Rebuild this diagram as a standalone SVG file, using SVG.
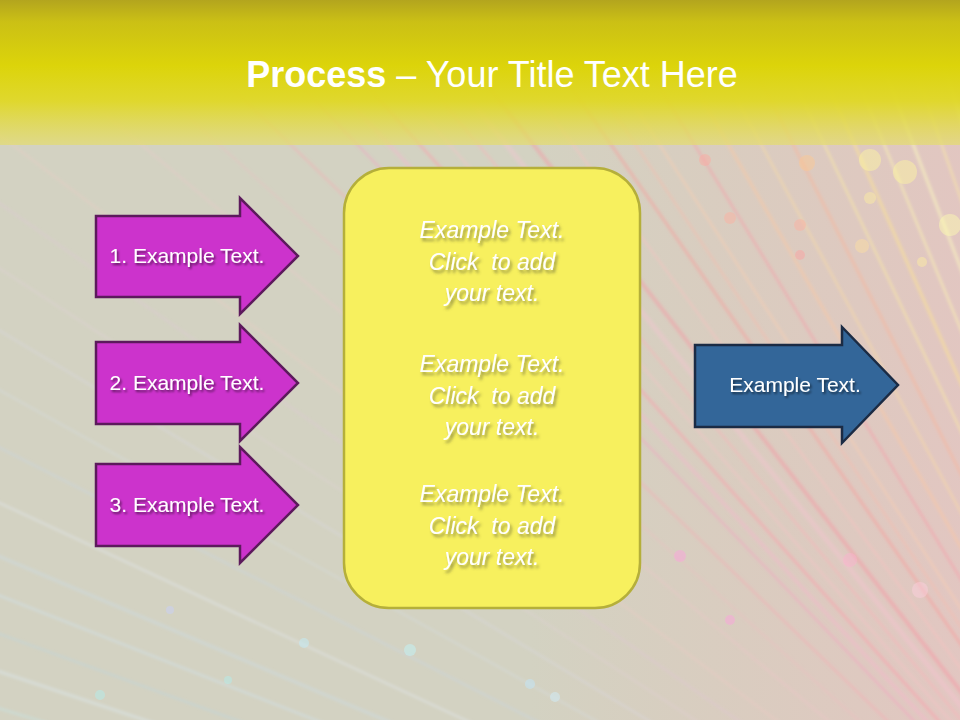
<svg xmlns="http://www.w3.org/2000/svg" width="960" height="720" viewBox="0 0 960 720">
<defs>
<style>
.t{font-family:"Liberation Sans",Arial,sans-serif;fill:#fff}
.arr{font-size:21px;text-anchor:middle;filter:url(#sh)}
.box{font-size:23px;font-style:italic;text-anchor:middle;filter:url(#sh2)}
.pur{fill:#cc33cc;stroke:#5c1a5c;stroke-width:2.5;stroke-linejoin:miter}
.blu{fill:#336699;stroke:#1b2b44;stroke-width:2.5}
.ray{fill:none;stroke-linecap:round}
</style>
<filter id="sh" x="-20%" y="-40%" width="140%" height="180%"><feDropShadow dx="1.5" dy="2" stdDeviation="1.2" flood-color="#000" flood-opacity="0.55"/></filter>
<filter id="sh2" x="-20%" y="-40%" width="140%" height="180%"><feDropShadow dx="2" dy="3" stdDeviation="1.5" flood-color="#5a5a30" flood-opacity="0.6"/></filter>
<filter id="blur"><feGaussianBlur stdDeviation="1.5"/></filter>
<linearGradient id="top" x1="0" y1="0" x2="0" y2="1">
<stop offset="0" stop-color="#b3a51e"/>
<stop offset="0.15" stop-color="#cbc015"/>
<stop offset="0.45" stop-color="#dcd40a"/>
<stop offset="0.7" stop-color="#e0d826" stop-opacity="0.95"/>
<stop offset="1" stop-color="#e4dc70" stop-opacity="0.7"/>
</linearGradient>
<linearGradient id="warm" x1="0" y1="0" x2="1" y2="0">
<stop offset="0.55" stop-color="#f0b8b0" stop-opacity="0"/>
<stop offset="1" stop-color="#f4b8c0" stop-opacity="0.45"/>
</linearGradient>
</defs>
<g id="background">
<rect x="0" y="0" width="960" height="720" fill="#d3d2c2"/>
<rect x="0" y="0" width="960" height="720" fill="url(#warm)"/>
<g transform="translate(1280,1100)" class="ray" filter="url(#blur)">
<line x2="-2000" transform="rotate(40)" stroke="#ffc0d0" stroke-width="2" opacity=".25"/>
<line x2="-2000" transform="rotate(42)" stroke="#ffb0c0" stroke-width="1.5" opacity=".3"/>
<line x2="-2000" transform="rotate(44)" stroke="#ffa0b0" stroke-width="2.5" opacity=".35"/>
<line x2="-2000" transform="rotate(46)" stroke="#ff90c0" stroke-width="2" opacity=".4"/>
<line x2="-2000" transform="rotate(47)" stroke="#ffb0d0" stroke-width="4" opacity=".3"/>
<line x2="-2000" transform="rotate(48)" stroke="#ff9aa8" stroke-width="3" opacity=".45"/>
<line x2="-2000" transform="rotate(49)" stroke="#ffc0c8" stroke-width="2" opacity=".4"/>
<line x2="-2000" transform="rotate(50)" stroke="#ffb0b8" stroke-width="2" opacity=".5"/>
<line x2="-2000" transform="rotate(51)" stroke="#ffc0d8" stroke-width="5" opacity=".3"/>
<line x2="-2000" transform="rotate(52)" stroke="#ff8898" stroke-width="4" opacity=".35"/>
<line x2="-2000" transform="rotate(53.5)" stroke="#ffc0c0" stroke-width="1.5" opacity=".6"/>
<line x2="-2000" transform="rotate(55)" stroke="#ff9090" stroke-width="3" opacity=".4"/>
<line x2="-2000" transform="rotate(56)" stroke="#ffb8a8" stroke-width="2" opacity=".45"/>
<line x2="-2000" transform="rotate(57)" stroke="#ffd0b0" stroke-width="2" opacity=".5"/>
<line x2="-2000" transform="rotate(58.5)" stroke="#ff8fa0" stroke-width="2.5" opacity=".4"/>
<line x2="-2000" transform="rotate(60)" stroke="#ffc8a0" stroke-width="3" opacity=".45"/>
<line x2="-2000" transform="rotate(61.5)" stroke="#ffe0a0" stroke-width="2" opacity=".5"/>
<line x2="-2000" transform="rotate(63)" stroke="#ffb090" stroke-width="3" opacity=".4"/>
<line x2="-2000" transform="rotate(64.5)" stroke="#fff0a0" stroke-width="2" opacity=".55"/>
<line x2="-2000" transform="rotate(66)" stroke="#ffe890" stroke-width="3" opacity=".5"/>
<line x2="-2000" transform="rotate(67.5)" stroke="#fff8b0" stroke-width="2" opacity=".6"/>
<line x2="-2000" transform="rotate(69)" stroke="#ffffc0" stroke-width="3" opacity=".5"/>
<line x2="-2000" transform="rotate(70.5)" stroke="#fff0a0" stroke-width="2" opacity=".55"/>
<line x2="-2000" transform="rotate(72)" stroke="#ffffd0" stroke-width="4" opacity=".5"/>
<line x2="-2000" transform="rotate(17)" stroke="#c0e8f0" stroke-width="2" opacity=".45"/>
<line x2="-2000" transform="rotate(18.5)" stroke="#e0f0ff" stroke-width="3" opacity=".35"/>
<line x2="-2000" transform="rotate(20)" stroke="#b0d8f0" stroke-width="1.5" opacity=".45"/>
<line x2="-2000" transform="rotate(21.5)" stroke="#d0e8ff" stroke-width="2" opacity=".4"/>
<line x2="-2000" transform="rotate(23)" stroke="#c8e0f8" stroke-width="3" opacity=".3"/>
<line x2="-2000" transform="rotate(25)" stroke="#e8f0ff" stroke-width="2" opacity=".4"/>
<line x2="-2000" transform="rotate(27)" stroke="#c0d8f8" stroke-width="2" opacity=".3"/>
<line x2="-2000" transform="rotate(29)" stroke="#d8e8ff" stroke-width="1.5" opacity=".3"/>
<line x2="-2000" transform="rotate(31)" stroke="#e0e0ff" stroke-width="2" opacity=".25"/>
<line x2="-2000" transform="rotate(33)" stroke="#f0d0f0" stroke-width="1.5" opacity=".25"/>
<line x2="-2000" transform="rotate(35)" stroke="#e8c0e8" stroke-width="2" opacity=".25"/>
<line x2="-2000" transform="rotate(37)" stroke="#ffc8c8" stroke-width="2" opacity=".25"/>
</g>
<g opacity="0.45">
<circle cx="870" cy="160" r="11" fill="#fff8a0"/>
<circle cx="807" cy="163" r="8" fill="#ffc890"/>
<circle cx="905" cy="172" r="12" fill="#fff8a0"/>
<circle cx="870" cy="198" r="6" fill="#fff0a0"/>
<circle cx="950" cy="225" r="11" fill="#ffffb0"/>
<circle cx="705" cy="160" r="6" fill="#ffa8a0"/>
<circle cx="800" cy="225" r="6" fill="#ffb0a0"/>
<circle cx="862" cy="246" r="7" fill="#ffe0a0"/>
<circle cx="922" cy="262" r="5" fill="#fff0a0"/>
<circle cx="730" cy="218" r="6" fill="#ffb0a0"/>
<circle cx="800" cy="255" r="5" fill="#ffa0a0"/>
<circle cx="680" cy="556" r="6" fill="#ffa0e0"/>
<circle cx="730" cy="620" r="5" fill="#ffa0e0"/>
<circle cx="850" cy="560" r="7" fill="#ffb0d0"/>
<circle cx="920" cy="590" r="8" fill="#ffd0e0"/>
<circle cx="304" cy="643" r="5" fill="#c0f0ff"/>
<circle cx="228" cy="680" r="4" fill="#b0f0f0"/>
<circle cx="410" cy="650" r="6" fill="#c0f8ff"/>
<circle cx="530" cy="684" r="5" fill="#c0e8ff"/>
<circle cx="555" cy="697" r="5" fill="#d0f0ff"/>
<circle cx="170" cy="610" r="4" fill="#c8d0ff"/>
<circle cx="100" cy="695" r="5" fill="#b0f0f0"/>
</g>
<rect x="0" y="0" width="960" height="145" fill="url(#top)"/>
</g>
<g id="title">
<text class="t" x="492" y="87" font-size="36" text-anchor="middle"><tspan font-weight="bold">Process</tspan> – Your Title Text Here</text>
</g>
<g id="connectors"></g>
<g id="center-box">
<rect x="344" y="168" width="296" height="440" rx="45" ry="45" fill="#f7f05e" stroke="#b5af3a" stroke-width="2.5"/>
<text class="t box" x="492" y="238">Example Text.</text>
<text class="t box" x="492" y="270" xml:space="preserve">Click  to add</text>
<text class="t box" x="492" y="301">your text.</text>
<text class="t box" x="492" y="372">Example Text.</text>
<text class="t box" x="492" y="404" xml:space="preserve">Click  to add</text>
<text class="t box" x="492" y="435">your text.</text>
<text class="t box" x="492" y="502">Example Text.</text>
<text class="t box" x="492" y="534" xml:space="preserve">Click  to add</text>
<text class="t box" x="492" y="565">your text.</text>
</g>
<g id="arrow-1">
<path class="pur" d="M96,216 H240 V198 L298,256 L240,314 V297 H96 Z"/>
<text class="t arr" x="187" y="263">1. Example Text.</text>
</g>
<g id="arrow-2">
<path class="pur" d="M96,342 H240 V325 L298,383 L240,441 V424 H96 Z"/>
<text class="t arr" x="187" y="390">2. Example Text.</text>
</g>
<g id="arrow-3">
<path class="pur" d="M96,464 H240 V447 L298,505 L240,563 V546 H96 Z"/>
<text class="t arr" x="187" y="512">3. Example Text.</text>
</g>
<g id="arrow-out">
<path class="blu" d="M695,345 H842 V327 L898,385 L842,443 V427 H695 Z"/>
<text class="t arr" x="795" y="392">Example Text.</text>
</g>
</svg>
